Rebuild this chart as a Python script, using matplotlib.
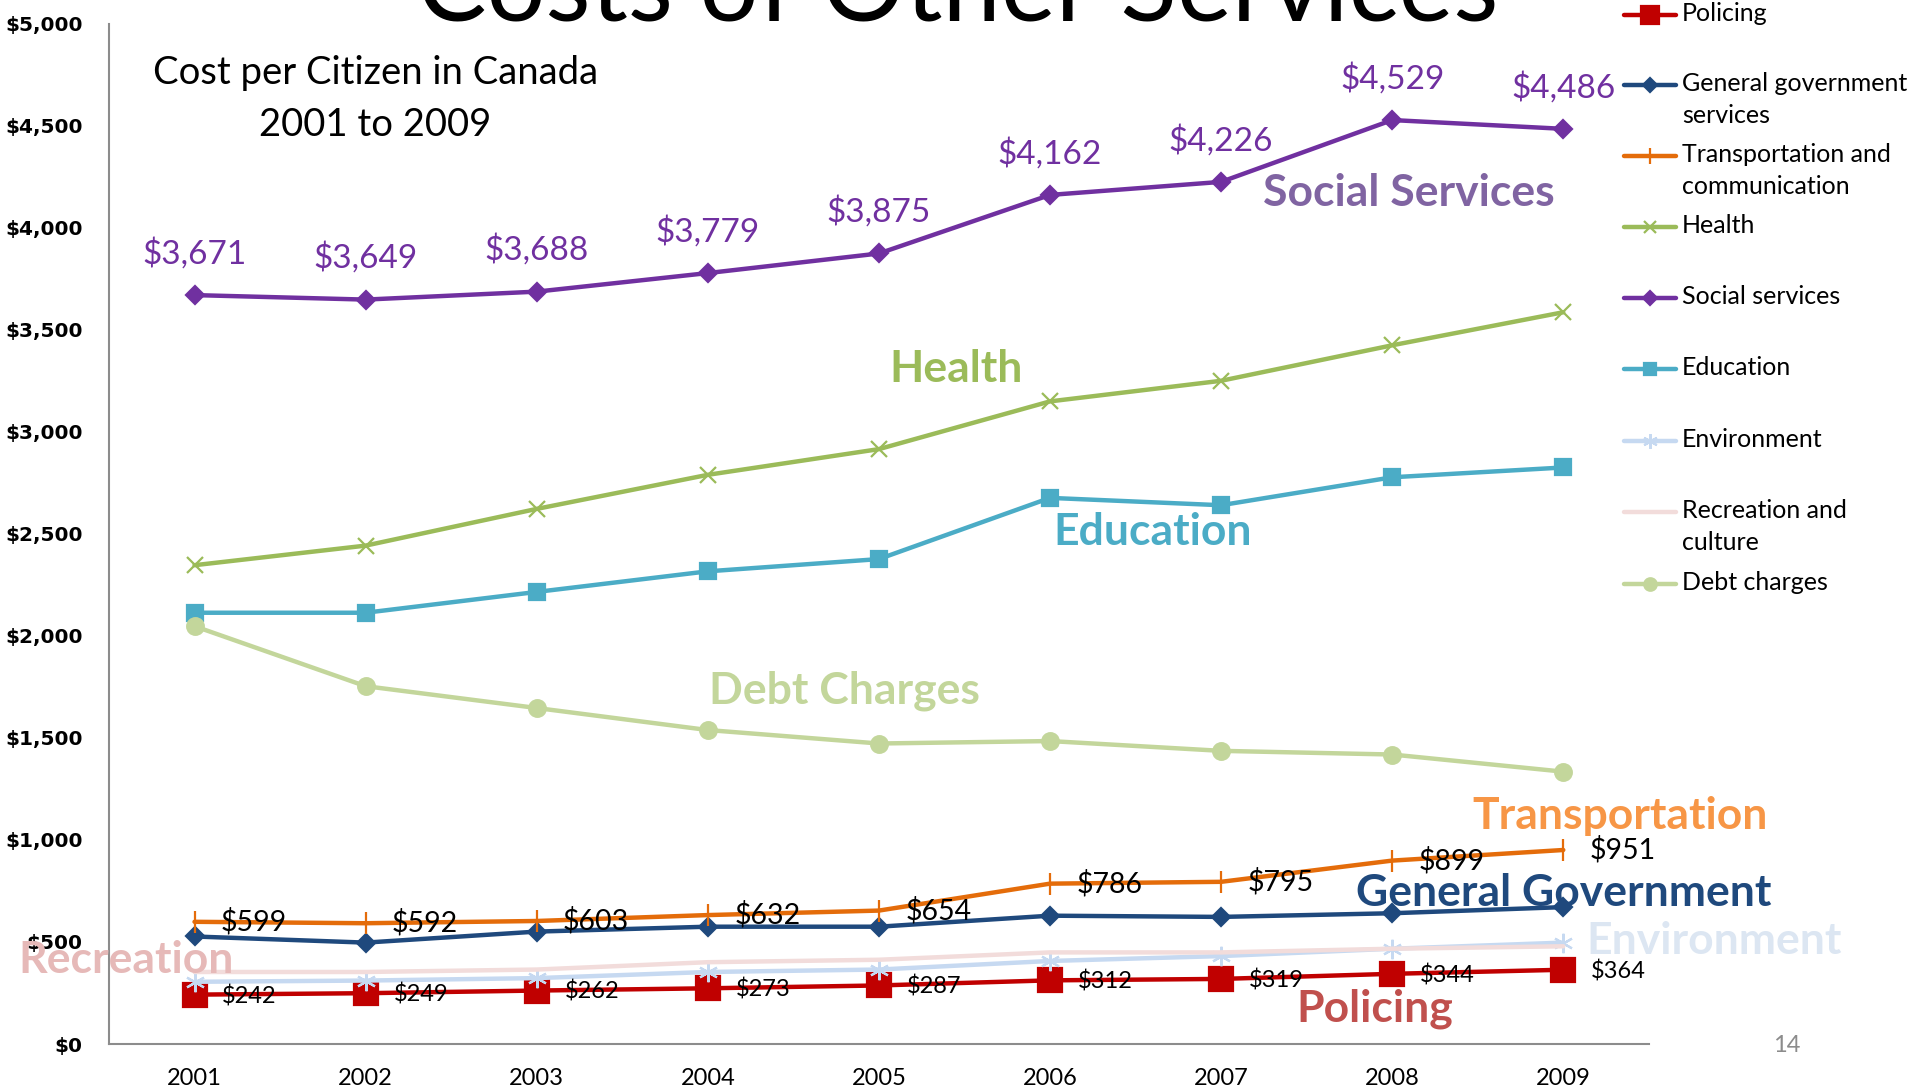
import matplotlib
matplotlib.use("Agg")
import matplotlib.pyplot as plt
from matplotlib.lines import Line2D

# Cost per citizen in Canada, 2001 to 2009
years = ["2001", "2002", "2003", "2004", "2005", "2006", "2007", "2008", "2009"]

policing = [242, 249, 262, 273, 287, 312, 319, 344, 364]
general_gov = [527, 497, 551, 575, 575, 629, 623, 641, 671]
transportation = [599, 592, 603, 632, 654, 786, 795, 899, 951]
health = [2347, 2443, 2623, 2790, 2916, 3150, 3251, 3425, 3587]
social = [3671, 3649, 3688, 3779, 3875, 4162, 4226, 4529, 4486]
education = [2114, 2114, 2216, 2317, 2377, 2677, 2641, 2778, 2826]
environment = [305, 311, 323, 353, 365, 407, 431, 467, 497]
recreation = [353, 353, 365, 401, 413, 449, 449, 467, 479]
debt = [2048, 1754, 1647, 1539, 1473, 1485, 1437, 1419, 1335]

yticks = [0, 500, 1000, 1500, 2000, 2500, 3000, 3500, 4000, 4500, 5000]

FONT = ["Lato", "DejaVu Sans"]

# name, legend label, values, colour, marker, markersize
series = [
    ("policing", "Policing", policing, "#C00000", "s", 17),
    ("general", "General government\nservices", general_gov, "#1F497D", "D", 9),
    ("transport", "Transportation and\ncommunication", transportation, "#E46C0A", "|", 16),
    ("health", "Health", health, "#9BBB59", "x", 11),
    ("social", "Social services", social, "#7030A0", "D", 9),
    ("education", "Education", education, "#4BACC6", "s", 11),
    ("environment", "Environment", environment, "#C6D9F1", (6, 2, 0), 14),
    ("recreation", "Recreation and\nculture", recreation, "#F2DCDB", None, 0),
    ("debt", "Debt charges", debt, "#C3D69B", "o", 12),
]

fig = plt.figure(figsize=(19.15, 10.9), dpi=100)
ax = fig.add_axes([0.0569, 0.0422, 0.8041, 0.9358])

x = list(range(len(years)))
for name, label, vals, color, marker, ms in series:
    ax.plot(x, vals, color=color, lw=3.2, marker=marker, markersize=ms,
            markeredgewidth=1.6, solid_capstyle="round", zorder=3)

ax.set_xlim(-0.5, len(years) - 0.5)
ax.set_ylim(0, 5000)
ax.set_xticks(x)
ax.set_xticklabels(years, fontsize=17, family=FONT)
ax.set_yticks(yticks)
ax.set_yticklabels(["${:,}".format(v) for v in yticks], fontsize=14.5,
                   fontweight="bold", family="DejaVu Sans")
ax.tick_params(axis="both", length=0)
ax.tick_params(axis="x", pad=17)
ax.tick_params(axis="y", pad=19)
for side in ["top", "right"]:
    ax.spines[side].set_visible(False)
for side in ["left", "bottom"]:
    ax.spines[side].set_color("#8C8C8C")
    ax.spines[side].set_linewidth(1.5)

# value labels
for i, v in enumerate(social):
    ax.annotate("${:,}".format(v), (i, v), xytext=(0, 30), textcoords="offset points",
                ha="center", va="center", fontsize=24, color="#7030A0", family=FONT)
for i, v in enumerate(transportation):
    ax.annotate("${:,}".format(v), (i, v), xytext=(19, 0), textcoords="offset points",
                ha="left", va="center", fontsize=20.5, color="black", family=FONT)
for i, v in enumerate(policing):
    ax.annotate("${:,}".format(v), (i, v), xytext=(20, -1), textcoords="offset points",
                ha="left", va="center", fontsize=17, color="black", family=FONT)

# category names drawn inside the plot
names = [
    ("Social Services", 7.1, 4170, "#8064A2"),
    ("Health", 4.45, 3310, "#9BBB59"),
    ("Education", 5.6, 2510, "#4BACC6"),
    ("Debt Charges", 3.8, 1730, "#C3D69B"),
    ("Transportation", 8.33, 1120, "#F79646"),
    ("General Government", 8.0, 740, "#1F497D"),
    ("Environment", 8.88, 505, "#DCE6F2"),
    ("Recreation", -0.4, 410, "#E6B9B8"),
    ("Policing", 6.9, 175, "#C0504D"),
]
for text, xv, yv, color in names:
    ax.text(xv, yv, text, ha="center", va="center", fontsize=32, fontweight="bold",
            color=color, family=FONT, zorder=5, clip_on=False)

# headings (the big title runs off the top edge, as on the slide)
fig.text(0.5, 0.9815, "Costs of Other Services", ha="center", va="baseline",
         fontsize=75, family=FONT)
fig.text(0.196, 0.933, "Cost per Citizen in Canada", ha="center", va="center",
         fontsize=27.5, family=FONT)
fig.text(0.196, 0.885, "2001 to 2009", ha="center", va="center",
         fontsize=27.5, family=FONT)
fig.text(0.933, 0.041, "14", ha="center", va="center", fontsize=17,
         color="#8C8C8C", family=FONT)

# legend on the right, one slot per series
leg = fig.add_axes([0, 0, 1, 1], facecolor="none")
leg.set_xlim(0, 1915)
leg.set_ylim(1090, 0)
leg.axis("off")
slot_y = [15, 85, 156, 227, 298, 369, 441, 512, 584]
for (name, label, vals, color, marker, ms), yy in zip(series, slot_y):
    leg.add_line(Line2D([1624, 1676], [yy, yy], color=color, lw=3.2,
                        solid_capstyle="round"))
    if marker is not None:
        leg.add_line(Line2D([1650], [yy], color=color, marker=marker,
                            markersize=ms * 0.75, markeredgewidth=1.6))
    leg.text(1682, yy - 13, label, ha="left", va="top", fontsize=18,
             family=FONT, linespacing=1.45)

fig.savefig("out.png", dpi=100)
